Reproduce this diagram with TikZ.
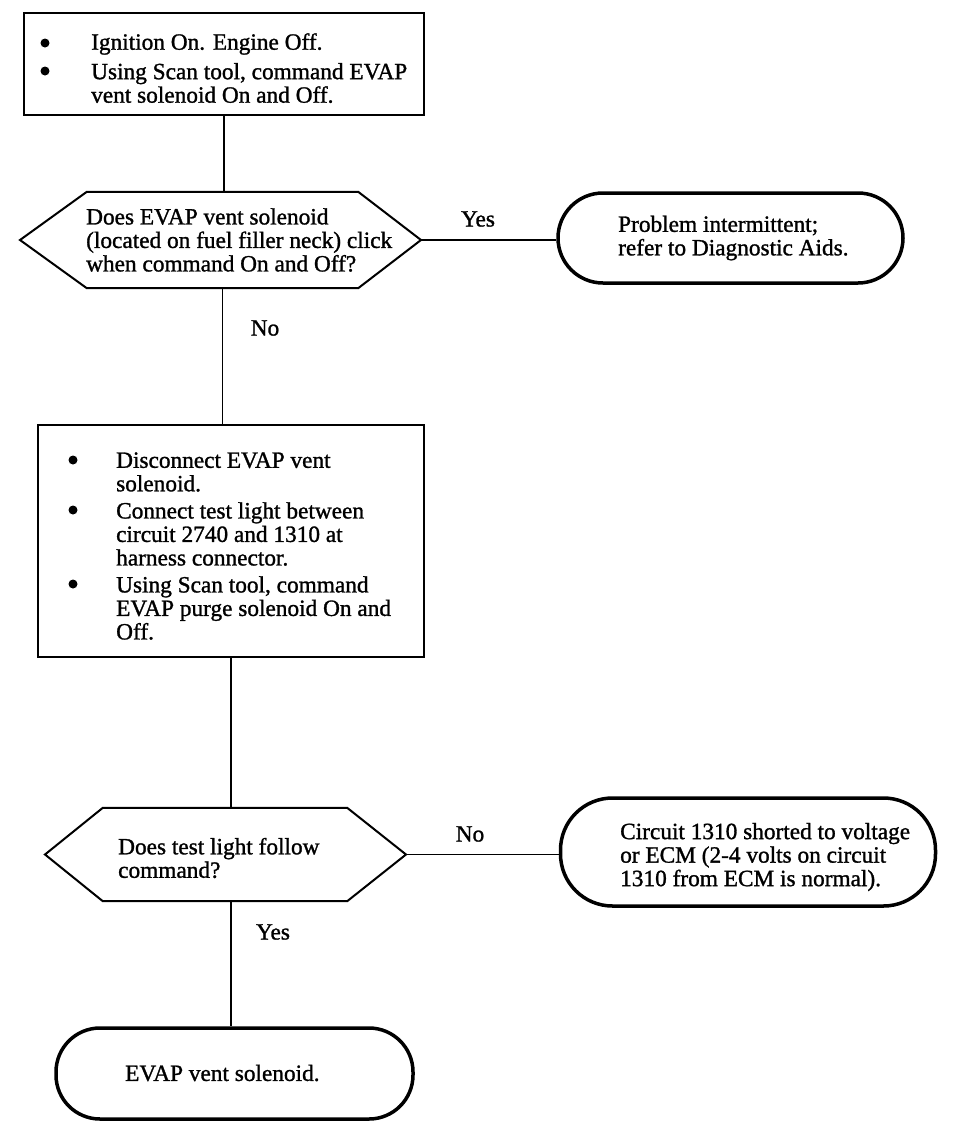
\documentclass[tikz,border=0pt]{standalone}
\usepackage{fontspec}
\setmainfont{Liberation Serif}[FakeBold=1.2]
\begin{document}
\begin{tikzpicture}[x=1pt,y=-1pt,
  txt/.style={inner sep=0pt, anchor=west, align=left, font=\fontsize{23.3}{23.5}\selectfont},
  lbl/.style={inner sep=0pt, font=\fontsize{23.3}{23.5}\selectfont},
  procbox/.style={draw, line width=2pt, rectangle, inner sep=0pt},
  term/.style={draw, line width=3.5pt, rectangle, inner sep=0pt},
  hexhold/.style={rectangle, inner sep=0pt},
  hexline/.style={line width=2pt, line join=miter},
  conn/.style={line width=1.8pt},
  bul/.style={circle, fill, inner sep=0pt, minimum size=9pt}
]
\useasboundingbox (0,0) rectangle (960,1138);

% Box 1
\node[procbox, minimum width=400pt, minimum height=102pt] (b1) at (224,64) {};
\node[bul] (b1a) at (45,43) {};
\node[bul] (b1b) at (45,71) {};
\node[txt] (b1t1) at (91,44) {Ignition On. Engine Off.};
\node[txt] (b1t2) at (91,83) {Using Scan tool, command EVAP\\vent solenoid On and Off.};

% Diamond 1
\node[hexhold, minimum width=271pt, minimum height=96pt] (d1) at (222.5,240) {};
\coordinate (d1l) at (20,240);
\coordinate (d1r) at (421,240);
\draw[hexline] (d1.north west) -- (d1.north east) -- (d1r) -- (d1.south east) -- (d1.south west) -- (d1l) -- cycle;
\node[txt] (d1t) at (86,240) {Does EVAP vent solenoid\\(located on fuel filler neck) click\\when command On and Off?};

% Terminal 1
\node[term, rounded corners=45pt, minimum width=345pt, minimum height=90pt] (t1) at (730.5,238) {};
\node[txt] (t1t) at (618,238) {Problem intermittent;\\refer to Diagnostic Aids.};

% Box 2
\node[procbox, minimum width=386pt, minimum height=232pt] (b2) at (231,541) {};
\node[bul] (b2a) at (73,460) {};
\node[bul] (b2b) at (73,510) {};
\node[bul] (b2c) at (73,584) {};
\node[txt] (b2t1) at (116,472) {Disconnect EVAP vent\\solenoid.};
\node[txt] (b2t2) at (116,534) {Connect test light between\\circuit 2740 and 1310 at\\harness connector.};
\node[txt] (b2t3) at (116,608) {Using Scan tool, command\\EVAP purge solenoid On and\\Off.};

% Diamond 2
\node[hexhold, minimum width=244pt, minimum height=93pt] (d2) at (225,854.5) {};
\coordinate (d2l) at (45,854.5);
\coordinate (d2r) at (406,854.5);
\draw[hexline] (d2.north west) -- (d2.north east) -- (d2r) -- (d2.south east) -- (d2.south west) -- (d2l) -- cycle;
\node[txt] (d2t) at (118,858) {Does test light follow\\command?};

% Terminal 2
\node[term, rounded corners=52pt, minimum width=375pt, minimum height=108pt] (t2) at (748,852) {};
\node[txt] (t2t) at (620,857) {Circuit 1310 shorted to voltage\\or ECM (2-4 volts on circuit\\1310 from ECM is normal).};

% Terminal 3
\node[term, rounded corners=44pt, minimum width=357pt, minimum height=91pt] (t3) at (234.5,1073.5) {};
\node[txt] (t3t) at (125,1073) {EVAP vent solenoid.};

% Connectors
\draw[conn] (b1.south) -- (b1.south |- d1.north);
\draw[conn] (d1r) -- (d1r -| t1.west);
\draw[conn] (d1.south) -- (d1.south |- b2.north);
\draw[conn] (b2.south) -- (b2.south |- d2.north);
\draw[conn] (d2r) -- (d2r -| t2.west);
\draw[conn] (d2.south -| b2.south) -- (b2.south |- t3.north);

% Labels
\node[lbl] (lyes1) at (478,219) {Yes};
\node[lbl] (lno1) at (265,328) {No};
\node[lbl] (lno2) at (470,834) {No};
\node[lbl] (lyes2) at (273,932) {Yes};
\end{tikzpicture}
\end{document}
